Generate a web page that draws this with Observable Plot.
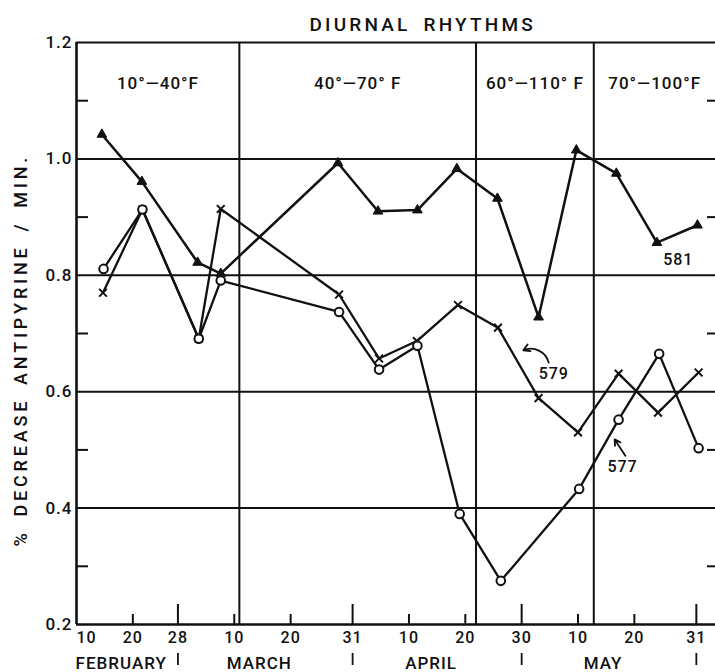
<!DOCTYPE html>
<html><head><meta charset="utf-8">
<script src="https://cdn.jsdelivr.net/npm/d3@7"></script>
<script src="https://cdn.jsdelivr.net/npm/@observablehq/plot@0.6"></script>
<style>body{margin:0;background:#fff} svg{display:block}</style>
</head><body><div id="chart"></div>
<script>
// x positions are day numbers counted from February 10 (day 0)
const tickDays = [0, 10, 18, 28, 38, 49, 59, 69, 79, 89, 99, 110];
const tickLabels = ["10","20","28","10","20","31","10","20","30","10","20","31"];
const monthNames = ["FEBRUARY","MARCH","APRIL","MAY"];
const monthStart = [0, 18, 49, 79];
const monthEnd = [18, 49, 79, 110];
const bandEdges = [0, 28.9, 70.9, 91.8, 113.4];
const bandLabels = ["10°—40°F","40°—70° F","60°—110° F","70°—100°F"];
const yMajor = [1.2, 1.0, 0.8, 0.6, 0.4, 0.2];
const yGrid = [1.0, 0.8, 0.6, 0.4];
const yMinor = [1.1, 0.9, 0.7, 0.5, 0.3];

const days581 = [4.5, 11.6, 21.5, 25.6, 46.4, 53.5, 60.5, 67.5, 74.7, 82.0, 88.7, 95.8, 103.0, 110.2];
const vals581 = [1.042, 0.961, 0.822, 0.803, 0.993, 0.910, 0.912, 0.983, 0.932, 0.728, 1.015, 0.975, 0.856, 0.886];
const days579 = [4.7, 11.7, 21.7, 25.6, 46.6, 53.7, 60.4, 67.7, 74.8, 82.0, 89.0, 96.2, 103.2, 110.4];
const vals579 = [0.770, 0.913, 0.691, 0.914, 0.767, 0.657, 0.687, 0.749, 0.710, 0.589, 0.530, 0.631, 0.564, 0.633];
const days577 = [4.8, 11.7, 21.7, 25.6, 46.6, 53.7, 60.5, 68.0, 75.3, 89.2, 96.2, 103.4, 110.4];
const vals577 = [0.811, 0.913, 0.691, 0.791, 0.737, 0.638, 0.679, 0.390, 0.275, 0.433, 0.552, 0.665, 0.503];

const seriesNames = ["581", "579", "577"];
const seriesLabelDays = [106.8, 84.7, 96.9];
const seriesLabelVals = [0.826, 0.630, 0.470];
const arrowFromDays = [83.8, 97.4];
const arrowFromVals = [0.650, 0.490];
const arrowToDays = [79.3, 95.5];
const arrowToVals = [0.671, 0.518];

const titleText = "DIURNAL\u2002RHYTHMS";
const yLabelText = "%\u2002DECREASE\u2002ANTIPYRINE\u2002/\u2002MIN.";

const toRows = (xs, ys) => xs.map((x, i) => ({x, y: ys[i]}));
const s581 = toRows(days581, vals581);
const s579 = toRows(days579, vals579);
const s577 = toRows(days577, vals577);

const W = 715, H = 672, mL = 76, mR = 0, mT = 42, mB = 48;
const xMax = bandEdges[bandEdges.length - 1];
const perY = (H - mT - mB);            // pixels per 1.0 of y
const perX = (W - mL - mR) / xMax;     // pixels per day
const pxY = p => p / perY;
const pxX = p => p / perX;
const yAtPx = p => 1.2 - (p - mT) / perY;
const xAtPx = p => (p - mL) / perX;
const isMonthEnd = d => monthEnd.includes(d);

const font = "Roboto, 'DejaVu Sans', sans-serif";
const ink = "#111";
const fw = 500;

const chart = Plot.plot({
  width: W, height: H,
  marginLeft: mL, marginRight: mR, marginTop: mT, marginBottom: mB,
  x: {domain: [0, xMax], axis: null},
  y: {domain: [0.2, 1.2], axis: null},
  style: {fontFamily: font, color: ink, background: "#fff", overflow: "visible", letterSpacing: "1px"},
  marks: [
    // grid / frame
    Plot.ruleX(bandEdges.slice(1, -1), {y1: 0.2, y2: 1.2, stroke: ink, strokeWidth: 2}),
    Plot.ruleY(yGrid, {x1: 0, x2: xMax, stroke: ink, strokeWidth: 2}),
    Plot.ruleY([1.2], {x1: 0, x2: xMax, stroke: ink, strokeWidth: 2.2}),
    Plot.ruleY([0.2], {x1: 0, x2: xMax, stroke: ink, strokeWidth: 2.6}),
    Plot.ruleX([0], {y1: 0.2, y2: 1.2, stroke: ink, strokeWidth: 2.6}),
    Plot.ruleY(yMinor, {x1: 0, x2: pxX(12), stroke: ink, strokeWidth: 2}),
    Plot.ruleY(yMinor, {x1: xMax - pxX(8), x2: xMax, stroke: ink, strokeWidth: 2}),
    Plot.ruleX(tickDays.slice(1), {y1: 0.2, y2: d => 0.2 + pxY(isMonthEnd(d) ? 20 : 10), stroke: ink, strokeWidth: 2}),
    Plot.ruleX(monthEnd, {y1: 0.2 - pxY(29), y2: 0.2 - pxY(41), stroke: ink, strokeWidth: 1.8}),
    // series lines
    Plot.line(s581, {x: "x", y: "y", stroke: ink, strokeWidth: 2.5}),
    Plot.line(s579, {x: "x", y: "y", stroke: ink, strokeWidth: 2.3}),
    Plot.line(s577, {x: "x", y: "y", stroke: ink, strokeWidth: 2.3}),
    // markers
    Plot.dot(s579, {x: "x", y: "y", symbol: "times", r: 3.6, stroke: ink, strokeWidth: 2}),
    Plot.dot(s577, {x: "x", y: "y", symbol: "circle", r: 4.3, fill: "#fff", stroke: ink, strokeWidth: 2}),
    Plot.dot(s581, {x: "x", y: "y", symbol: "triangle", r: 3.6, fill: ink, stroke: ink, strokeWidth: 1}),
    // annotations
    Plot.text(seriesNames, {x: (d, i) => seriesLabelDays[i], y: (d, i) => seriesLabelVals[i], text: d => d, fontSize: 16, fontWeight: fw, fill: ink}),
    Plot.arrow([0], {x1: arrowFromDays[0], y1: arrowFromVals[0], x2: arrowToDays[0], y2: arrowToVals[0], bend: -50, headLength: 6, stroke: ink, strokeWidth: 1.8}),
    Plot.arrow([1], {x1: arrowFromDays[1], y1: arrowFromVals[1], x2: arrowToDays[1], y2: arrowToVals[1], headLength: 6, stroke: ink, strokeWidth: 1.8}),
    // y tick labels
    Plot.text(yMajor, {x: 0, y: d => d, text: d => d.toFixed(1), textAnchor: "end", dx: -4, fontSize: 17, fontWeight: fw, fill: ink}),
    // x tick labels
    Plot.text(tickDays.slice(0, 1), {x: d => d, y: 0.2, text: () => tickLabels[0], textAnchor: "start", dy: 13, fontSize: 16, fontWeight: fw, fill: ink}),
    Plot.text(tickDays.slice(1), {x: d => d, y: 0.2, text: (d, i) => tickLabels[i + 1], dy: 13, fontSize: 16, fontWeight: fw, fill: ink}),
    // month names
    Plot.text(monthNames, {x: (d, i) => (monthStart[i] + monthEnd[i]) / 2, y: 0.2, text: d => d, dy: 39, dx: -6, fontSize: 17, fontWeight: fw, fill: ink}),
    // temperature bands
    Plot.text(bandLabels, {x: (d, i) => (bandEdges[i] + bandEdges[i + 1]) / 2, y: 1.2, text: d => d, dy: 41, fontSize: 17, fontWeight: fw, fill: ink}),
    // title
    Plot.text([titleText], {x: xAtPx(309), y: yAtPx(24), textAnchor: "start", lineAnchor: "middle", text: d => d, fontSize: 19, fontWeight: fw, fill: ink}),
    // y axis label
    Plot.text([yLabelText], {x: 0, y: yAtPx(546), textAnchor: "start", lineAnchor: "middle", text: d => d, rotate: -90, dx: -55, fontSize: 18, fontWeight: fw, fill: ink})
  ]
});
document.getElementById("chart").appendChild(chart);
const allText = d3.select(chart).selectAll("text");
allText.filter(function() { return this.textContent === titleText; }).style("letter-spacing", "3.2px");
allText.filter(function() { return this.textContent === yLabelText; }).style("letter-spacing", "3.8px");
</script>
</body></html>
